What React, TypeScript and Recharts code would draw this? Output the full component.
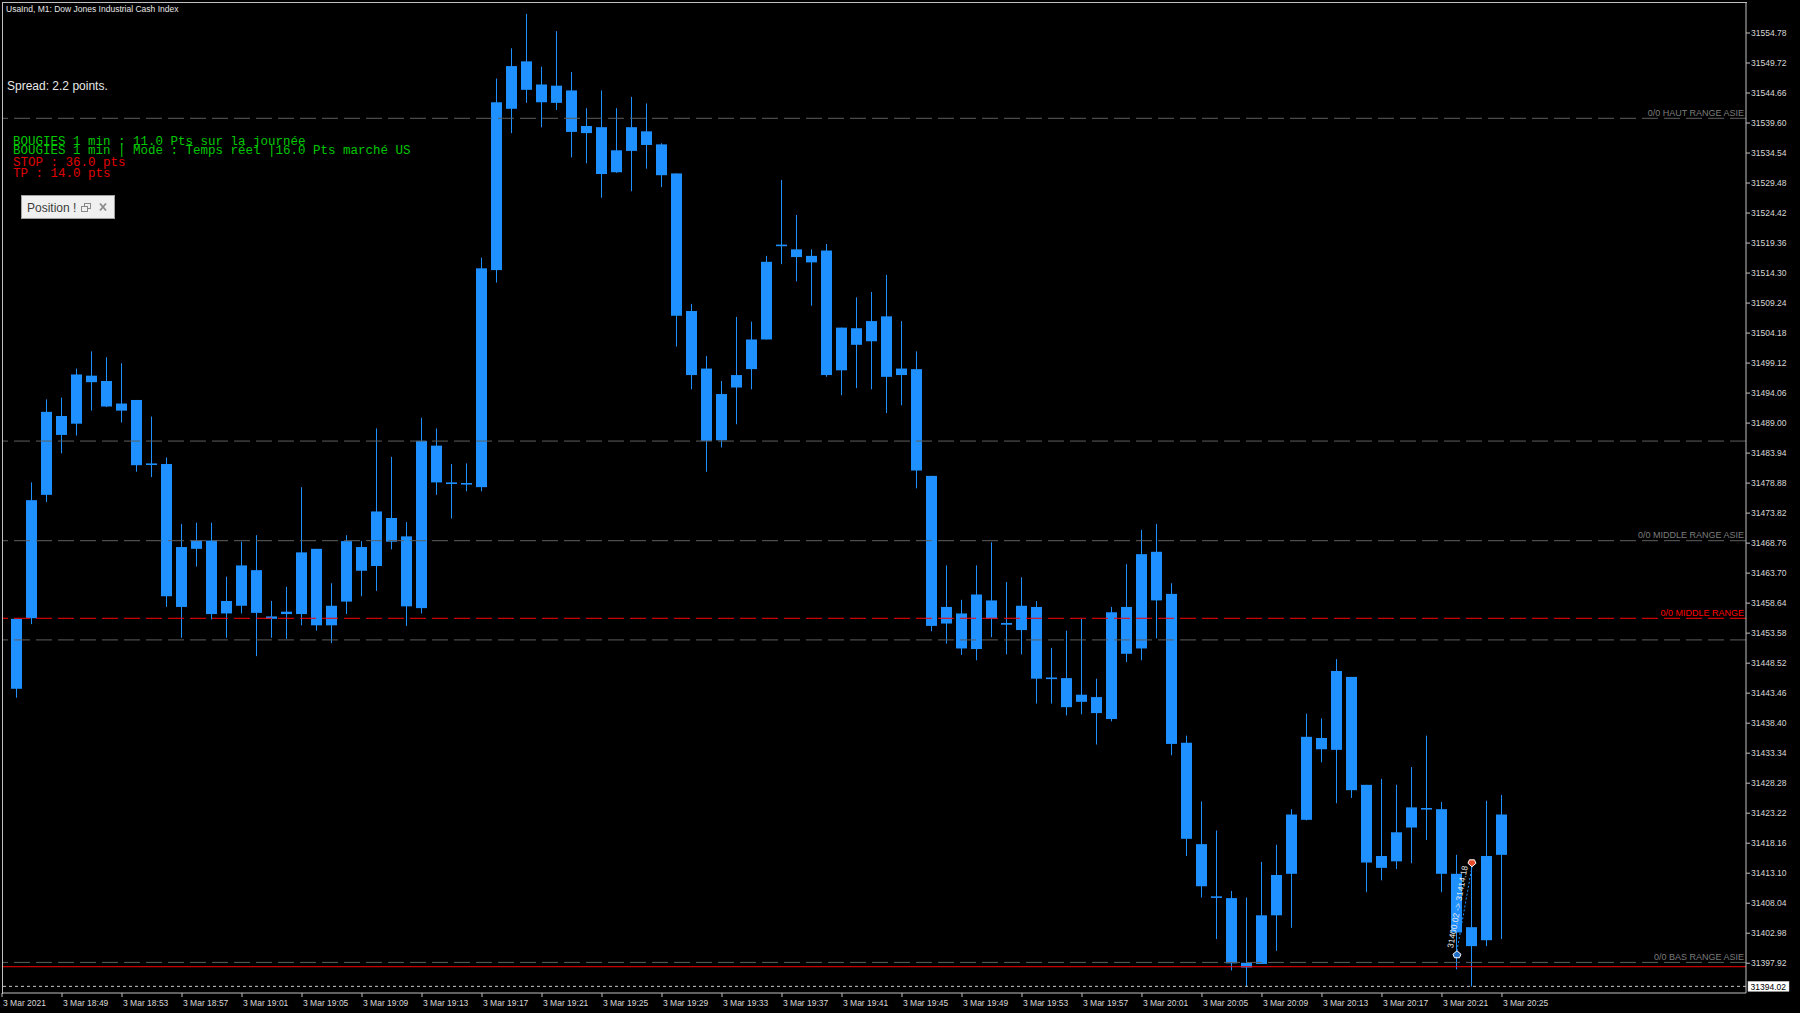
import React from "react";
import { ComposedChart, Bar, XAxis, YAxis, ReferenceLine, Scatter } from "recharts";

// ---------------- data ----------------
const times = [
  "18:46", "18:47", "18:48", "18:49", "18:50", "18:51", "18:52", "18:53", "18:54", "18:55", "18:56", "18:57", "18:58", "18:59",
  "19:00", "19:01", "19:02", "19:03", "19:04", "19:05", "19:06", "19:07", "19:08", "19:09", "19:10", "19:11", "19:12", "19:13", "19:14", "19:15",
  "19:16", "19:17", "19:18", "19:19", "19:20", "19:21", "19:22", "19:23", "19:24", "19:25", "19:26", "19:27", "19:28", "19:29", "19:30",
  "19:31", "19:32", "19:33", "19:34", "19:35", "19:36", "19:37", "19:38", "19:39", "19:40", "19:41", "19:42", "19:43", "19:44", "19:45",
  "19:46", "19:47", "19:48", "19:49", "19:50", "19:51", "19:52", "19:53", "19:54", "19:55", "19:56", "19:57", "19:58", "19:59",
  "20:00", "20:01", "20:02", "20:03", "20:04", "20:05", "20:06", "20:07", "20:08", "20:09", "20:10", "20:11", "20:12", "20:13", "20:14",
  "20:15", "20:16", "20:17", "20:18", "20:19", "20:20", "20:21", "20:22", "20:23", "20:24", "20:25",
];

const opens = [
  31444.2, 31456.1, 31476.9, 31490.2, 31488.9, 31497.0, 31496.1, 31491.1, 31492.9, 31482.0,
  31482.1, 31458.0, 31467.8, 31469.2, 31456.9, 31458.2, 31464.2, 31456.0, 31456.8, 31456.8,
  31467.8, 31454.9, 31458.9, 31468.1, 31464.9, 31473.0, 31469.9, 31457.8, 31485.2, 31479.0,
  31478.9, 31478.2, 31514.8, 31542.0, 31550.0, 31546.1, 31543.0, 31545.1, 31537.9, 31538.9,
  31531.3, 31534.9, 31538.2, 31536.0, 31531.1, 31507.9, 31498.2, 31486.1, 31495.0, 31498.1,
  31503.1, 31518.9, 31518.3, 31517.2, 31518.1, 31497.9, 31505.0, 31502.8, 31507.0, 31497.1,
  31498.1, 31480.1, 31455.2, 31456.9, 31450.9, 31459.1, 31455.3, 31454.1, 31458.0, 31446.0,
  31446.0, 31442.0, 31442.8, 31439.1, 31458.0, 31451.0, 31467.3, 31460.2, 31435.1, 31418.0,
  31409.2, 31408.9, 31398.0, 31397.8, 31406.0, 31413.0, 31422.1, 31435.9, 31433.9, 31446.2,
  31428.0, 31414.0, 31415.1, 31420.8, 31424.1, 31423.9, 31413.0, 31404.0, 31401.8, 31416.2,
];

const highs = [
  31456.0, 31479.0, 31493.0, 31493.3, 31498.2, 31501.1, 31500.1, 31499.1, 31492.9, 31490.1,
  31483.2, 31472.0, 31472.2, 31472.2, 31463.1, 31469.0, 31470.1, 31459.0, 31461.4, 31478.2,
  31467.8, 31462.0, 31470.1, 31469.1, 31488.1, 31483.3, 31472.3, 31489.9, 31488.1, 31482.1,
  31482.2, 31516.9, 31547.1, 31552.2, 31558.0, 31549.1, 31555.1, 31548.2, 31542.1, 31545.1,
  31542.1, 31544.0, 31542.9, 31536.2, 31531.1, 31509.1, 31500.3, 31496.1, 31506.9, 31506.1,
  31517.2, 31530.0, 31524.1, 31518.3, 31519.2, 31505.1, 31510.2, 31511.1, 31514.0, 31506.2,
  31501.1, 31480.1, 31465.0, 31459.2, 31465.0, 31468.9, 31462.2, 31463.0, 31459.0, 31451.1,
  31454.0, 31456.0, 31445.9, 31458.0, 31465.2, 31471.0, 31472.0, 31462.0, 31436.3, 31425.2,
  31420.3, 31410.1, 31409.0, 31415.0, 31417.9, 31423.9, 31440.0, 31439.2, 31449.2, 31446.2,
  31428.0, 31429.0, 31428.0, 31431.0, 31436.3, 31425.1, 31416.2, 31414.9, 31425.3, 31426.3,
];

const lows = [
  31442.7, 31455.1, 31475.7, 31483.9, 31486.9, 31491.1, 31491.7, 31489.1, 31480.8, 31479.9,
  31458.0, 31452.8, 31464.8, 31455.9, 31452.8, 31456.9, 31449.7, 31452.8, 31452.6, 31454.9,
  31454.0, 31451.9, 31456.8, 31459.8, 31460.7, 31467.7, 31454.8, 31456.9, 31476.9, 31472.9,
  31477.5, 31477.5, 31512.7, 31537.9, 31543.0, 31538.9, 31541.8, 31533.8, 31532.8, 31527.0,
  31531.2, 31528.1, 31531.9, 31528.8, 31501.9, 31494.7, 31480.8, 31484.9, 31488.8, 31494.7,
  31503.1, 31515.8, 31512.9, 31508.8, 31496.8, 31493.7, 31494.9, 31494.7, 31490.7, 31492.0,
  31478.0, 31453.9, 31451.8, 31449.9, 31449.0, 31452.9, 31450.0, 31450.0, 31441.7, 31441.7,
  31439.7, 31439.9, 31434.8, 31438.7, 31448.7, 31449.0, 31452.7, 31433.0, 31416.0, 31409.0,
  31402.0, 31396.7, 31394.0, 31397.8, 31400.0, 31403.9, 31422.0, 31431.8, 31424.9, 31425.8,
  31409.9, 31411.9, 31413.8, 31414.8, 31418.7, 31409.9, 31396.9, 31394.0, 31400.8, 31402.0,
];

const closes = [
  31456.0, 31476.0, 31490.9, 31487.0, 31497.2, 31495.9, 31491.8, 31492.3, 31481.9, 31482.2,
  31459.8, 31468.1, 31469.2, 31456.8, 31459.0, 31465.0, 31457.0, 31456.4, 31457.2, 31467.2,
  31454.9, 31458.2, 31469.1, 31464.1, 31474.1, 31469.0, 31458.1, 31486.0, 31479.0, 31478.9,
  31478.7, 31515.1, 31543.1, 31549.2, 31545.2, 31543.1, 31545.9, 31538.1, 31539.1, 31531.0,
  31535.0, 31538.9, 31535.9, 31530.8, 31507.1, 31497.1, 31486.0, 31493.9, 31497.1, 31503.1,
  31516.2, 31519.1, 31517.0, 31516.1, 31497.1, 31505.1, 31502.2, 31506.2, 31496.8, 31498.2,
  31481.0, 31454.8, 31458.0, 31451.0, 31460.1, 31456.0, 31455.0, 31458.2, 31445.9, 31446.1,
  31441.1, 31443.2, 31440.1, 31457.1, 31450.1, 31466.9, 31459.1, 31434.9, 31418.9, 31410.9,
  31409.0, 31397.9, 31397.2, 31406.0, 31412.8, 31423.0, 31436.1, 31434.0, 31447.2, 31427.1,
  31414.9, 31416.0, 31420.0, 31424.2, 31423.9, 31413.0, 31403.1, 31400.8, 31416.0, 31423.0,
];

const xTickTimes = [
  "18:45", "18:49", "18:53", "18:57", "19:01", "19:05", "19:09", "19:13", "19:17", "19:21", "19:25", "19:29", "19:33",
  "19:37", "19:41", "19:45", "19:49", "19:53", "19:57", "20:01", "20:05", "20:09", "20:13", "20:17", "20:21", "20:25",
];
const xTickLabels = [
  "3 Mar 2021", "3 Mar 18:49", "3 Mar 18:53", "3 Mar 18:57", "3 Mar 19:01", "3 Mar 19:05", "3 Mar 19:09", "3 Mar 19:13",
  "3 Mar 19:17", "3 Mar 19:21", "3 Mar 19:25", "3 Mar 19:29", "3 Mar 19:33", "3 Mar 19:37", "3 Mar 19:41", "3 Mar 19:45",
  "3 Mar 19:49", "3 Mar 19:53", "3 Mar 19:57", "3 Mar 20:01", "3 Mar 20:05", "3 Mar 20:09", "3 Mar 20:13", "3 Mar 20:17",
  "3 Mar 20:21", "3 Mar 20:25",
];
const xDomainStart = "18:45";
const xDomainMinutes = 116.27;

const yTicks = [
  31554.78, 31549.72, 31544.66, 31539.6, 31534.54, 31529.48, 31524.42, 31519.36, 31514.3, 31509.24, 31504.18,
  31499.12, 31494.06, 31489.0, 31483.94, 31478.88, 31473.82, 31468.76, 31463.7, 31458.64, 31453.58, 31448.52,
  31443.46, 31438.4, 31433.34, 31428.28, 31423.22, 31418.16, 31413.1, 31408.04, 31402.98, 31397.92,
];
const yDomain = [31392.9, 31559.84];

const levelNames = ["0/0 HAUT RANGE ASIE", "", "0/0 MIDDLE RANGE ASIE", "0/0 MIDDLE RANGE", "", "0/0 BAS RANGE ASIE"];
const levelPrices = [31540.4, 31485.97, 31469.17, 31456.09, 31452.44, 31398.06];
const levelKinds = ["asie", "asie", "asie", "us", "asie", "asie"];
const stopPrice = 31397.33;
const bidPrice = 31394.02;

const tradeTimes = ["20:22", "20:23"];
const tradePrices = [31400.02, 31414.18];
const tradeKinds = ["entry", "exit"];
const tradeText = "31400.02 -> 31414.18";

const titleText = "UsaInd, M1:  Dow Jones Industrial Cash Index";
const spreadText = "Spread: 2.2 points.";
const greenLines = ["BOUGIES 1 min : 11.0 Pts sur la journée", "BOUGIES 1 min | Mode : Temps réel |16.0 Pts marché US"];
const redLines = ["STOP : 36.0 pts", "TP : 14.0 pts"];
const panelTitle = "Position !";

// ---------------- helpers ----------------
const toMin = (s: string) => {
  const [h, m] = s.split(":").map(Number);
  return h * 60 + m;
};

const rows = times.map((t, i) => ({
  t: toMin(t),
  open: opens[i],
  high: highs[i],
  low: lows[i],
  close: closes[i],
  range: [lows[i], highs[i]],
}));

const tradeRows = tradeTimes.map((t, i) => ({ t: toMin(t), price: tradePrices[i], kind: tradeKinds[i] }));

const BLUE = "#1E90FF";
const AXIS = "#c0c0c0";
const AXIS_TEXT = "#d8d8d8";
const FONT = "'Liberation Sans', Arial, sans-serif";
const MONO = "'Liberation Mono', 'Courier New', monospace";

const Candle = (props: any) => {
  const { x, y, width, height, payload } = props;
  if (!payload || x == null || y == null) return null;
  const { open, close, high, low } = payload;
  const top = Math.min(y, y + height);
  const h = Math.abs(height);
  const range = high - low;
  const k = range > 0 ? h / range : 0;
  const center = x + width / 2;
  const left = Math.round(center - 5);
  const wickX = left + 5.5;
  const bodyTop = top + (high - Math.max(open, close)) * k;
  const bodyBot = top + (high - Math.min(open, close)) * k;
  const bh = Math.max(bodyBot - bodyTop, 1.6);
  return (
    <g>
      <line x1={wickX} x2={wickX} y1={top} y2={top + h} stroke={BLUE} strokeWidth={1} />
      <rect x={left} y={bodyTop} width={11} height={bh} fill={BLUE} />
    </g>
  );
};

const LevelLabel = (props: any) => {
  const { viewBox, text, color } = props;
  if (!text || !viewBox) return null;
  return (
    <text x={viewBox.x + viewBox.width - 2} y={viewBox.y - 2.5} textAnchor="end" fill={color} fontSize={9} fontFamily={FONT}>
      {text}
    </text>
  );
};

const BidLabel = (props: any) => {
  const { viewBox, text } = props;
  if (!viewBox) return null;
  const bx = viewBox.x + viewBox.width + 2;
  return (
    <g>
      <rect x={bx} y={viewBox.y - 5} width={41} height={10} fill="#ffffff" stroke="#c0c0c0" strokeWidth={0.5} />
      <text x={bx + 2.5} y={viewBox.y + 3.2} fill="#000000" fontSize={8.5} fontFamily={FONT}>
        {text}
      </text>
    </g>
  );
};

const TradeLabel = (props: any) => {
  const { viewBox, text } = props;
  if (!viewBox) return null;
  const { x, y, width, height } = viewBox;
  const cx = x + width / 2 - 7;
  const cy = y + height / 2 - 2;
  const ang = (-Math.atan2(height, width) * 180) / Math.PI;
  return (
    <text
      x={cx}
      y={cy}
      transform={`rotate(${ang} ${cx} ${cy})`}
      textAnchor="middle"
      dominantBaseline="central"
      fill="#e8e8e8"
      fontSize={8.5}
      fontFamily={FONT}
    >
      {text}
    </text>
  );
};

const TradeMark = (props: any) => {
  const { cx, cy, payload } = props;
  if (cx == null || cy == null) return null;
  if (payload.kind === "entry") {
    const pts = `${cx},${cy} ${cx + 4},${cy + 3.5} ${cx + 2.5},${cy + 7} ${cx - 2.5},${cy + 7} ${cx - 4},${cy + 3.5}`;
    return <polygon points={pts} fill="#1f6fc8" stroke="#ffffff" strokeWidth={1} />;
  }
  const pts = `${cx},${cy} ${cx + 4},${cy - 3.5} ${cx + 2.5},${cy - 7} ${cx - 2.5},${cy - 7} ${cx - 4},${cy - 3.5}`;
  return <polygon points={pts} fill="#e84a2a" stroke="#ffffff" strokeWidth={1} />;
};

const XTick = (props: any) => {
  const { x, y, payload } = props;
  const idx = xTickTimes.map(toMin).indexOf(payload.value);
  const label = idx >= 0 ? xTickLabels[idx] : "";
  return (
    <text x={x + 1} y={y + 8.5} fill={AXIS_TEXT} fontSize={8.5} fontFamily={FONT} textAnchor="start">
      {label}
    </text>
  );
};

const YTick = (props: any) => {
  const { x, y, payload } = props;
  return (
    <text x={x} y={y + 3} fill={AXIS_TEXT} fontSize={8.5} fontFamily={FONT} textAnchor="start">
      {Number(payload.value).toFixed(2)}
    </text>
  );
};

export default function App() {
  const x0 = toMin(xDomainStart);
  return (
    <div style={{ position: "absolute", left: 0, top: 0, width: 1800, height: 1013, background: "#000000", overflow: "hidden" }}>
      <ComposedChart
        width={1800}
        height={1013}
        data={rows}
        margin={{ top: 3, right: 0, bottom: 0, left: 2 }}
      >
        <XAxis
          dataKey="t"
          type="number"
          domain={[x0, x0 + xDomainMinutes]}
          allowDataOverflow
          ticks={xTickTimes.map(toMin)}
          interval={0}
          tick={<XTick />}
          tickLine={{ stroke: AXIS }}
          tickSize={4}
          tickMargin={0}
          axisLine={{ stroke: AXIS }}
          height={20}
        />
        <YAxis
          orientation="right"
          type="number"
          domain={yDomain}
          allowDataOverflow
          ticks={yTicks}
          interval={0}
          tick={<YTick />}
          tickLine={{ stroke: AXIS }}
          tickSize={4}
          tickMargin={1}
          axisLine={{ stroke: AXIS }}
          width={54}
        />
        <Bar dataKey="range" shape={<Candle />} barSize={10} isAnimationActive={false} />
        {levelPrices.map((p, i) => (
          <ReferenceLine
            key={"lvl" + i}
            y={p}
            stroke={levelKinds[i] === "us" ? "#ff0000" : "#5f5f5f"}
            strokeWidth={1}
            strokeDasharray="16 6"
            label={<LevelLabel text={levelNames[i]} color={levelKinds[i] === "us" ? "#ff0000" : "#7c7c7c"} />}
          />
        ))}
        <ReferenceLine y={stopPrice} stroke="#ff0000" strokeWidth={1} />
        <ReferenceLine y={bidPrice} stroke="#c8c8c8" strokeWidth={1} strokeDasharray="3 3" label={<BidLabel text={bidPrice.toFixed(2)} />} />
        <ReferenceLine
          segment={[
            { x: tradeRows[0].t, y: tradeRows[0].price },
            { x: tradeRows[1].t, y: tradeRows[1].price },
          ]}
          stroke={BLUE}
          strokeDasharray="2 2"
          strokeWidth={1}
          label={<TradeLabel text={tradeText} />}
        />
        <Scatter data={tradeRows} dataKey="price" shape={<TradeMark />} isAnimationActive={false} />
      </ComposedChart>

      {/* plot frame (top / left) */}
      <div
        style={{
          position: "absolute",
          left: 2,
          top: 2,
          width: 1745,
          height: 992,
          boxSizing: "border-box",
          borderTop: "1px solid " + AXIS,
          borderLeft: "1px solid " + AXIS,
          pointerEvents: "none",
        }}
      />

      <svg width={1800} height={1013} style={{ position: "absolute", left: 0, top: 0, pointerEvents: "none" }}>
        <text x={6} y={12} fill="#e6e6e6" fontSize={8.5} fontFamily={FONT}>
          {titleText}
        </text>
        <text x={7} y={90} fill="#e8e8e8" fontSize={12} fontFamily={FONT}>
          {spreadText}
        </text>
        {greenLines.map((s, i) => (
          <text key={"g" + i} x={13} y={145 + i * 9.3} fill="#00c800" fontSize={12.5} fontFamily={MONO} style={{ whiteSpace: "pre" }}>
            {s}
          </text>
        ))}
        {redLines.map((s, i) => (
          <text key={"r" + i} x={13} y={165.7 + i * 11} fill="#e00000" fontSize={12.5} fontFamily={MONO} style={{ whiteSpace: "pre" }}>
            {s}
          </text>
        ))}
        <g>
          <rect x={21.5} y={195.5} width={93} height={23} fill="#f0f0f0" stroke="#a0a0a0" strokeWidth={1} />
          <text x={27} y={212} fill="#3c3c3c" fontSize={12} fontFamily={FONT}>
            {panelTitle}
          </text>
          <rect x={84.5} y={203.5} width={6} height={5} fill="none" stroke="#8a8a8a" strokeWidth={1} />
          <rect x={81.5} y={206.5} width={6} height={5} fill="#f0f0f0" stroke="#8a8a8a" strokeWidth={1} />
          <line x1={100} y1={203.5} x2={106} y2={210.5} stroke="#8a8a8a" strokeWidth={1.8} />
          <line x1={106} y1={203.5} x2={100} y2={210.5} stroke="#8a8a8a" strokeWidth={1.8} />
        </g>
      </svg>
    </div>
  );
}
